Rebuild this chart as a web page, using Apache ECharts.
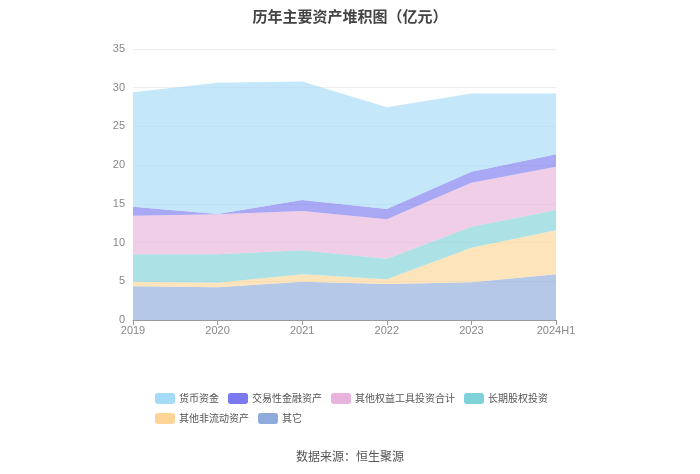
<!DOCTYPE html>
<html>
<head>
<meta charset="utf-8">
<script src="https://cdn.jsdelivr.net/npm/echarts@6/dist/echarts.min.js"></script>
<style>
  html, body { margin: 0; padding: 0; background: #fff; }
  #chart { width: 700px; height: 474px; }
</style>
</head>
<body>
<div id="chart"></div>
<script>
// 数据
const years = ['2019', '2020', '2021', '2022', '2023', '2024H1'];
const cash = [14.76, 16.95, 15.30, 13.14, 10.08, 7.84];          // 货币资金
const tradingAssets = [1.17, 0.05, 1.42, 1.33, 1.42, 1.60];      // 交易性金融资产
const otherEquity = [4.99, 5.17, 5.08, 5.08, 5.69, 5.60];        // 其他权益工具投资合计
const longEquity = [3.53, 3.66, 3.10, 2.67, 2.71, 2.62];         // 长期股权投资
const otherNonCurrent = [0.60, 0.60, 0.95, 0.60, 4.47, 5.68];    // 其他非流动资产
const others = [4.35, 4.22, 4.95, 4.65, 4.87, 5.90];             // 其它
const yTicks = [0, 5, 10, 15, 20, 25, 30, 35];

const chart = echarts.init(document.getElementById('chart'));

// 堆叠顺序：底部为 其它
const seriesDefs = [
  { name: '其它', data: others, color: '#8eabdc' },
  { name: '其他非流动资产', data: otherNonCurrent, color: '#fdd597' },
  { name: '长期股权投资', data: longEquity, color: '#7fd3d8' },
  { name: '其他权益工具投资合计', data: otherEquity, color: '#e8b3dc' },
  { name: '交易性金融资产', data: tradingAssets, color: '#7b79ef' },
  { name: '货币资金', data: cash, color: '#a4dcf8' }
];

const option = {
  animation: false,
  title: {
    text: '历年主要资产堆积图（亿元）',
    left: 'center',
    top: 4,
    textStyle: { fontSize: 15, fontWeight: 'bold', color: '#444', fontFamily: 'Noto Sans CJK SC' }
  },
  legend: {
    data: ['货币资金', '交易性金融资产', '其他权益工具投资合计', '长期股权投资', '其他非流动资产', '其它'],
    top: 388,
    left: 150,
    width: 410,
    itemWidth: 20,
    itemHeight: 11,
    itemGap: 9,
    icon: 'roundRect',
    textStyle: { fontSize: 10, color: '#555', fontFamily: 'Noto Sans CJK SC', padding: [0, 0, 0, -1] }
  },
  grid: { left: 133, right: 144, top: 49, bottom: 154 },
  xAxis: {
    type: 'category',
    boundaryGap: false,
    data: years,
    axisLine: { lineStyle: { color: '#999' } },
    axisTick: { show: true, alignWithLabel: true, lineStyle: { color: '#999' } },
    axisLabel: { color: '#888', fontSize: 11, margin: 5 }
  },
  yAxis: {
    type: 'value',
    min: 0,
    max: yTicks[yTicks.length - 1],
    interval: 5,
    axisLine: { show: false },
    axisTick: { show: false },
    axisLabel: { color: '#888', fontSize: 11 },
    splitLine: { lineStyle: { color: '#eee' } }
  },
  series: seriesDefs.map(s => ({
    name: s.name,
    type: 'line',
    stack: 'total',
    data: s.data,
    symbol: 'none',
    lineStyle: { width: 0 },
    itemStyle: { color: s.color },
    areaStyle: { color: s.color, opacity: 0.65 }
  })),
  graphic: [{
    type: 'text',
    left: 'center',
    top: 450,
    style: { text: '数据来源：恒生聚源', fontSize: 12, fill: '#555', fontFamily: 'Noto Sans CJK SC' }
  }]
};

chart.setOption(option);
</script>
</body>
</html>
